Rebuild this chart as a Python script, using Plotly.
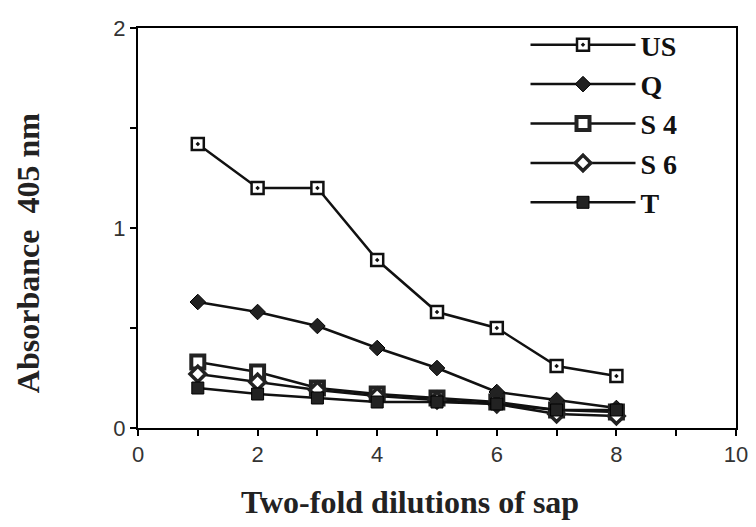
import plotly.graph_objects as go

dilutions = [1, 2, 3, 4, 5, 6, 7, 8]
us = [1.42, 1.20, 1.20, 0.84, 0.58, 0.50, 0.31, 0.26]
q = [0.63, 0.58, 0.51, 0.40, 0.30, 0.18, 0.14, 0.10]
s4 = [0.33, 0.28, 0.20, 0.17, 0.15, 0.13, 0.09, 0.08]
s6 = [0.27, 0.23, 0.19, 0.16, 0.14, 0.12, 0.07, 0.06]
t = [0.20, 0.17, 0.15, 0.13, 0.13, 0.12, 0.09, 0.09]

series = [
    ("US", us, dict(symbol="square-dot", color="white", size=12, line=dict(width=2.5, color="#111"))),
    ("Q", q, dict(symbol="diamond", color="#222", size=12, line=dict(width=1, color="black"))),
    ("S 4", s4, dict(symbol="square", color="white", size=13, line=dict(width=4, color="#222"))),
    ("S 6", s6, dict(symbol="diamond", color="white", size=12, line=dict(width=3.5, color="#222"))),
    ("T", t, dict(symbol="square", color="#222", size=12, line=dict(width=1, color="black"))),
]

fig = go.Figure()
for name, vals, mk in series:
    fig.add_trace(go.Scatter(x=dilutions, y=vals, name=name, mode="lines+markers",
                             line=dict(color="#111", width=2.5), marker=mk))

serif = "Liberation Serif, Times New Roman, serif"
sans = "Liberation Sans, Arial, sans-serif"

fig.update_layout(
    width=756, height=527,
    paper_bgcolor="white", plot_bgcolor="white",
    margin=dict(l=130, r=28, t=17, b=107),
    showlegend=True,
    legend=dict(x=0.648, y=1.02, xanchor="left", yanchor="top",
                font=dict(family=serif, size=28, color="#111", weight="bold"),
                bgcolor="rgba(0,0,0,0)", itemwidth=105, tracegroupgap=0),
    xaxis=dict(range=[0, 10], tickvals=[0, 1, 2, 3, 4, 5, 6, 7, 8, 9, 10],
               ticktext=["0", "", "2", "", "4", "", "6", "", "8", "", "10"],
               ticks="outside", ticklen=6, tickwidth=2, tickcolor="black",
               showline=True, linecolor="black", linewidth=2, mirror=True,
               showgrid=False, zeroline=False, automargin=False,
               tickfont=dict(family=sans, size=22, color="#333")),
    yaxis=dict(range=[0, 2], tickvals=[0, 0.5, 1, 1.5, 2], ticktext=["0", "", "1", "", "2"],
               ticks="outside", ticklen=6, tickwidth=2, tickcolor="black",
               showline=True, linecolor="black", linewidth=2, mirror=True,
               showgrid=False, zeroline=False, automargin=False,
               tickfont=dict(family=sans, size=22, color="#333")),
    annotations=[
        dict(text="<b>Two-fold dilutions of sap</b>", xref="paper", yref="paper",
             x=0.455, y=-0.186, xanchor="center", yanchor="middle", showarrow=False,
             font=dict(family=serif, size=32, color="#222")),
        dict(text="<b>Absorbance  405 nm</b>", xref="paper", yref="paper",
             x=-0.184, y=0.437, xanchor="center", yanchor="middle", showarrow=False,
             textangle=-90, font=dict(family=serif, size=32, color="#222")),
    ],
)

fig.write_html("out.html")
